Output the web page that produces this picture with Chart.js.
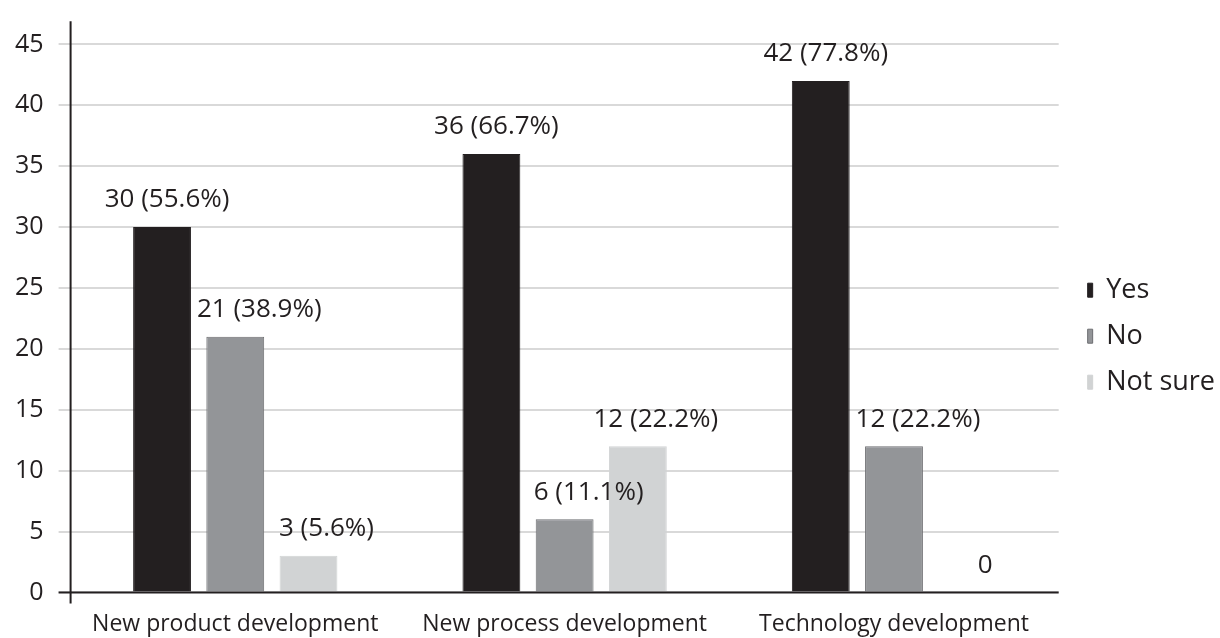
<!DOCTYPE html>
<html>
<head>
<meta charset="utf-8">
<script src="https://cdn.jsdelivr.net/npm/chart.js@4/dist/chart.umd.min.js"></script>
<style>
  html,body{margin:0;padding:0;background:#fff;}
  #wrap{width:1220px;height:638px;}
</style>
</head>
<body>
<div id="wrap"><canvas id="chart"></canvas></div>
<script>
const categories = ['New product development', 'New process development', 'Technology development'];
const seriesNames = ['Yes', 'No', 'Not sure'];
const yesValues = [30, 36, 42];
const noValues = [21, 6, 12];
const notSureValues = [3, 12, 0];
const yesPct = ['55.6', '66.7', '77.8'];
const noPct = ['38.9', '11.1', '22.2'];
const notSurePct = ['5.6', '22.2', null];
const yTicks = [0, 5, 10, 15, 20, 25, 30, 35, 40, 45];

const textColor = '#231f20';
const fontFamily = '"Open Sans", "Noto Sans", sans-serif';
const labelShift = [5, 24, 18]; // labels sit a bit right of the bar, as in the original

// value labels above each bar, e.g. "30 (55.6%)"
const barLabels = {
  id: 'barLabels',
  afterDatasetsDraw(chart){
    const ctx = chart.ctx;
    ctx.save();
    ctx.font = '26px ' + fontFamily;
    ctx.fillStyle = textColor;
    ctx.textAlign = 'center';
    ctx.textBaseline = 'middle';
    chart.data.datasets.forEach((ds, i) => {
      chart.getDatasetMeta(i).data.forEach((bar, j) => {
        const v = ds.data[j];
        const p = ds.pct[j];
        const txt = p ? `${v} (${p}%)` : `${v}`;
        ctx.fillText(txt, bar.x + labelShift[i], bar.y - 27);
      });
    });
    ctx.restore();
  }
};

// black axis lines, y axis running a little below zero like the original
const axisLines = {
  id: 'axisLines',
  afterDatasetsDraw(chart){
    const {ctx, chartArea: a, scales: {y}} = chart;
    const y0 = y.getPixelForValue(0);
    ctx.save();
    ctx.strokeStyle = '#231f20';
    ctx.lineWidth = 2;
    ctx.beginPath();
    ctx.moveTo(a.left, a.top);
    ctx.lineTo(a.left, y0 + 11);
    ctx.moveTo(a.left - 12, y0);
    ctx.lineTo(a.right, y0);
    ctx.stroke();
    ctx.restore();
  }
};

new Chart(document.getElementById('chart'), {
  type: 'bar',
  data: {
    labels: categories,
    datasets: [
      {label: seriesNames[0], data: yesValues, pct: yesPct, backgroundColor: '#231f20', borderColor: '#231f20', borderWidth: 1},
      {label: seriesNames[1], data: noValues, pct: noPct, backgroundColor: '#939598', borderColor: '#6d6e71', borderWidth: 1},
      {label: seriesNames[2], data: notSureValues, pct: notSurePct, backgroundColor: '#d1d3d4', borderColor: '#d1d3d4', borderWidth: 1}
    ]
  },
  options: {
    responsive: true,
    maintainAspectRatio: false,
    animation: false,
    categoryPercentage: 0.667,
    barPercentage: 0.79,
    layout: {padding: {top: -4, right: -5, bottom: -18, left: 0}},
    plugins: {
      legend: {
        position: 'right',
        title: {display: true, text: ' ', padding: 0, font: {size: 17}},
        labels: {
          color: textColor,
          font: {family: fontFamily, size: 27},
          boxWidth: 5,
          boxHeight: 14,
          padding: 19
        }
      },
      tooltip: {enabled: false}
    },
    scales: {
      x: {
        grid: {display: false, drawTicks: false},
        border: {display: false},
        ticks: {color: textColor, font: {family: fontFamily, size: 23}, padding: 18}
      },
      y: {
        min: 0,
        max: 46.9,
        afterBuildTicks: axis => { axis.ticks = yTicks.map(v => ({value: v})); },
        grid: {color: '#d9d9d9', lineWidth: 2, tickLength: 12},
        border: {display: false},
        ticks: {color: textColor, font: {family: fontFamily, size: 25, lineHeight: 0.5}, padding: 15}
      },
      // empty spacer between the plot and the legend
      gap: {
        position: 'right',
        grid: {display: false, drawTicks: false},
        border: {display: false},
        ticks: {display: false},
        afterFit: s => { s.width = 10; }
      }
    }
  },
  plugins: [barLabels, axisLines]
});
</script>
</body>
</html>
